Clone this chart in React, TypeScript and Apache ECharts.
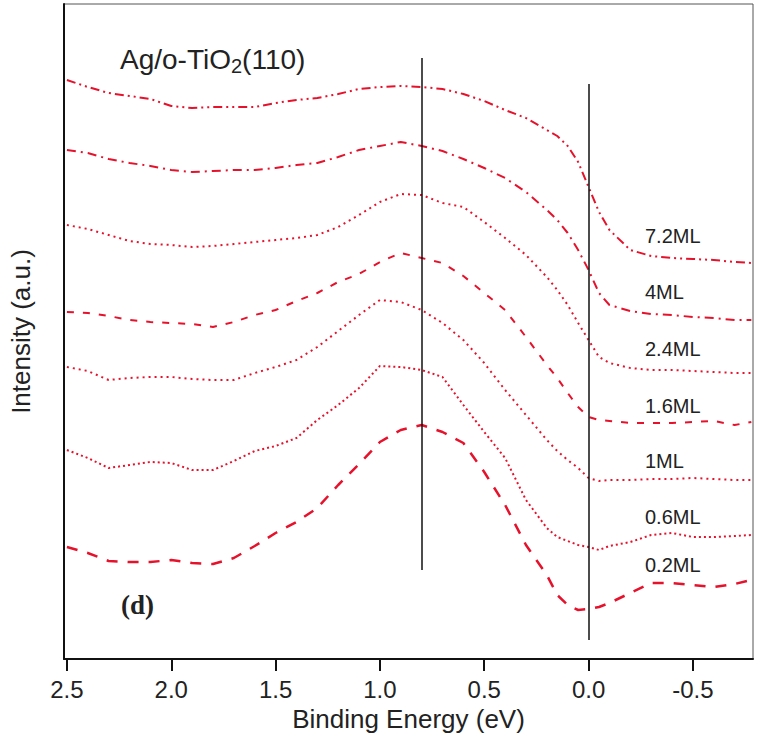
import React, { useEffect, useRef } from "react";
import * as echarts from "echarts";

// Binding energy (eV), shared by all spectra
const energy = [2.5, 2.4, 2.3, 2.2, 2.1, 2.0, 1.9, 1.8, 1.7, 1.6, 1.5, 1.4, 1.3, 1.2, 1.1, 1.0, 0.9, 0.8, 0.7, 0.6, 0.5, 0.4, 0.3, 0.2, 0.15, 0.1, 0.05, 0.0, -0.05, -0.1, -0.2, -0.3, -0.4, -0.5, -0.6, -0.7, -0.78];

// Intensity (a.u., offset stacked)
const ml72 = [579, 572, 566, 563, 560, 553, 551, 552, 552, 552, 556, 559, 561, 565, 570, 572, 573, 572, 570, 565, 558, 549, 541, 529, 523, 513, 497, 472, 447, 429, 409, 403, 401, 400, 399, 397, 396];
const ml4 = [509, 506, 500, 496, 493, 489, 487, 488, 489, 489, 491, 494, 496, 502, 509, 513, 517, 513, 508, 500, 491, 481, 467, 449, 439, 426, 409, 389, 366, 354, 348, 345, 344, 342, 341, 339, 339];
const ml24 = [434, 430, 424, 418, 415, 414, 412, 413, 415, 417, 419, 421, 424, 432, 444, 457, 465, 464, 456, 452, 437, 421, 404, 382, 369, 354, 336, 319, 302, 296, 291, 289, 289, 288, 287, 286, 286];
const ml16 = [347, 346, 343, 339, 337, 336, 335, 332, 337, 344, 349, 358, 366, 377, 385, 397, 406, 401, 396, 383, 366, 349, 322, 294, 281, 266, 252, 242, 239, 238, 236, 236, 236, 237, 238, 234, 237];
const ml1 = [292, 288, 279, 281, 282, 282, 280, 279, 279, 286, 292, 299, 312, 328, 344, 359, 357, 349, 336, 319, 296, 269, 244, 219, 208, 199, 191, 181, 178, 179, 179, 180, 180, 181, 180, 179, 179];
const ml06 = [209, 201, 191, 194, 197, 196, 189, 189, 198, 208, 213, 221, 239, 254, 271, 293, 292, 289, 282, 254, 227, 201, 159, 131, 122, 118, 114, 112, 109, 113, 117, 124, 126, 122, 122, 123, 124];
const ml02 = [112, 106, 98, 97, 97, 99, 96, 95, 101, 113, 126, 137, 151, 174, 195, 217, 229, 234, 227, 216, 187, 154, 114, 84, 64, 54, 49, 50, 52, 56, 66, 76, 76, 74, 72, 75, 79];

const seriesNames = ["7.2ML", "4ML", "2.4ML", "1.6ML", "1ML", "0.6ML", "0.2ML"];
const seriesValues = [ml72, ml4, ml24, ml16, ml1, ml06, ml02];
const dashPatterns: number[][] = [
  [9, 4, 2, 4, 2, 4],
  [9, 5, 2, 5],
  [2, 4],
  [7, 9],
  [2, 4],
  [2, 3],
  [11, 10],
];
const lineWidths = [2, 2, 2, 2, 2, 2, 2.5];

// Tick labels
const xTicks = [2.5, 2.0, 1.5, 1.0, 0.5, 0.0, -0.5];

// Reference lines: [energy, intensity from, intensity to]
const refLines = [
  [0.8, 601, 89],
  [0.0, 575, 19],
];

const RED = "#e6122c";
const TEXT = "#222";
const SANS = "'Liberation Sans', Arial, sans-serif";

export default function App() {
  const ref = useRef<HTMLDivElement>(null);
  useEffect(() => {
    if (!ref.current) return;
    const chart = echarts.init(ref.current, null, { renderer: "svg" });
    const series: any[] = seriesNames.map((name, i) => ({
      name,
      type: "line",
      data: energy.map((e, k) => [e, seriesValues[i][k]]),
      showSymbol: false,
      symbol: "none",
      lineStyle: { color: RED, width: lineWidths[i], type: dashPatterns[i] },
      z: 3,
    }));
    series.push({
      name: "ref",
      type: "line",
      data: [],
      markLine: {
        silent: true,
        symbol: "none",
        label: { show: false },
        lineStyle: { color: "#111", width: 1.5, type: "solid" },
        data: refLines.map(([e, a, b]) => [{ coord: [e, a] }, { coord: [e, b] }]),
      },
    });
    const labelTops = [237, 293, 350, 407, 462, 518, 566];
    chart.setOption({
      animation: false,
      backgroundColor: "#fff",
      grid: {
        left: 60,
        right: 6,
        top: 4,
        bottom: 88,
        show: true,
        borderColor: "#555",
        borderWidth: 1,
      },
      xAxis: {
        type: "value",
        inverse: true,
        min: -0.788,
        max: 2.514,
        name: "Binding Energy (eV)",
        nameLocation: "middle",
        nameGap: 46,
        nameTextStyle: { fontFamily: SANS, fontSize: 26, color: TEXT },
        axisLine: { show: true, onZero: false, lineStyle: { color: "#111", width: 2 } },
        axisTick: { show: true, customValues: xTicks, length: 12, lineStyle: { color: "#111", width: 2 } },
        axisLabel: {
          customValues: xTicks,
          formatter: (v: number) => v.toFixed(1),
          fontFamily: SANS,
          fontSize: 24,
          color: TEXT,
          margin: 18,
        },
        splitLine: { show: false },
      },
      yAxis: {
        type: "value",
        min: 0,
        max: 655,
        name: "Intensity (a.u.)",
        nameLocation: "middle",
        nameGap: 30,
        nameTextStyle: { fontFamily: SANS, fontSize: 26, color: TEXT },
        axisLine: { show: true, onZero: false, lineStyle: { color: "#111", width: 2 } },
        axisTick: { show: false },
        axisLabel: { show: false },
        splitLine: { show: false },
      },
      graphic: [
        {
          type: "text",
          left: 120,
          top: 42,
          style: {
            text: "{m|Ag/o-TiO}{s|2}{m|(110)}",
            rich: {
              m: { fontFamily: SANS, fontSize: 28, fill: TEXT, lineHeight: 34 },
              s: { fontFamily: SANS, fontSize: 20, fill: TEXT, lineHeight: 34, padding: [14, 0, 0, 0] },
            },
          },
        },
        {
          type: "text",
          left: 121,
          top: 591,
          style: { text: "(d)", fontFamily: "'Liberation Serif', 'Times New Roman', serif", fontSize: 27, fontWeight: "bold", fill: TEXT },
        },
        ...seriesNames.map((n, i) => ({
          type: "text",
          left: 645,
          top: labelTops[i] - 11,
          style: { text: n, fontFamily: SANS, fontSize: 20, fill: TEXT },
        })),
      ],
      series,
    });
    return () => chart.dispose();
  }, []);
  return <div ref={ref} style={{ position: "absolute", left: 0, top: 0, width: 759, height: 747 }} />;
}
